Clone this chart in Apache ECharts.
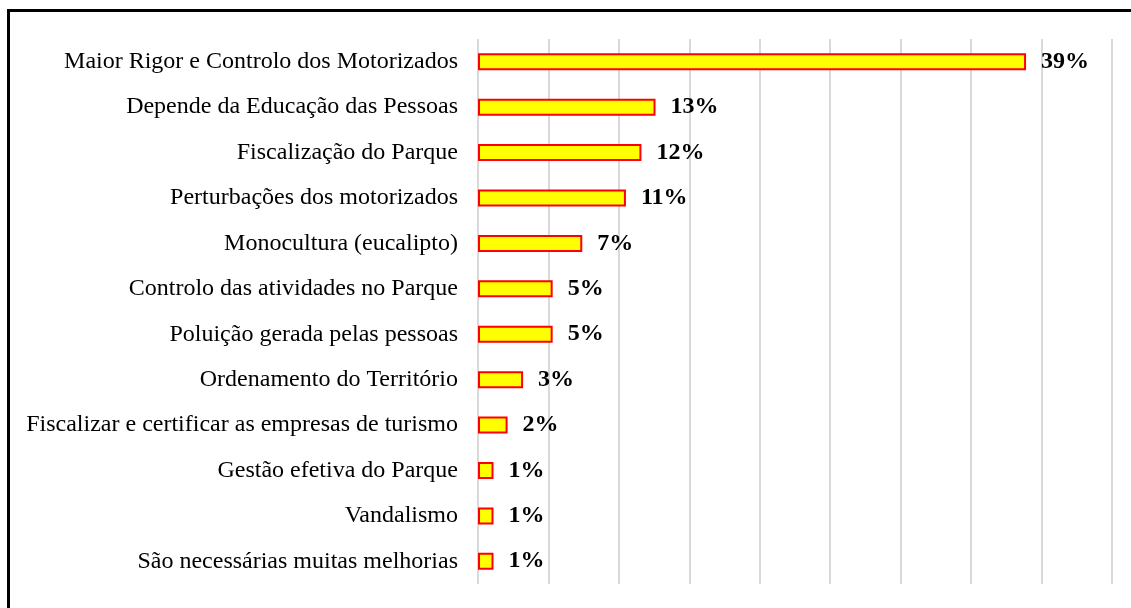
<!DOCTYPE html>
<html>
<head>
<meta charset="utf-8">
<title>Bar chart</title>
<script src="https://cdn.jsdelivr.net/npm/echarts@6/dist/echarts.min.js"></script>
<style>
  html, body { margin: 0; padding: 0; background: #fff; }
  #main { width: 1131px; height: 608px; }
</style>
</head>
<body>
<div id="main"></div>
<script>
// categorias, de cima para baixo
const categories = [
  'Maior Rigor e Controlo dos Motorizados',
  'Depende da Educação das Pessoas',
  'Fiscalização do Parque',
  'Perturbações dos motorizados',
  'Monocultura (eucalipto)',
  'Controlo das atividades no Parque',
  'Poluição gerada pelas pessoas',
  'Ordenamento do Território',
  'Fiscalizar e certificar as empresas de turismo',
  'Gestão efetiva do Parque',
  'Vandalismo',
  'São necessárias muitas melhorias'
];
const values = [38.9, 12.6, 11.6, 10.5, 7.4, 5.3, 5.3, 3.2, 2.1, 1.1, 1.1, 1.1];

let chart = echarts.init(document.getElementById('main'));

let option = {
  animation: false,
  backgroundColor: '#fff',
  graphic: [
    {
      type: 'rect',
      shape: { x: 8.5, y: 10.5, width: 1200, height: 700 },
      style: { fill: 'none', stroke: '#000', lineWidth: 3 },
      silent: true
    }
  ],
  grid: {
    left: 478,
    right: 19,
    top: 39,
    bottom: 24,
    containLabel: false
  },
  xAxis: {
    type: 'value',
    min: 0,
    max: 45,
    interval: 5,
    axisLabel: { show: false },
    axisLine: { show: false },
    axisTick: { show: false },
    splitLine: { lineStyle: { color: '#d9d9d9', width: 2 } }
  },
  yAxis: {
    type: 'category',
    inverse: true,
    data: categories,
    axisLine: { show: false },
    axisTick: { show: false },
    axisLabel: {
      margin: 20,
      color: '#000',
      fontFamily: 'Liberation Serif',
      fontSize: 24
    }
  },
  series: [
    {
      type: 'bar',
      data: values,
      barWidth: 17,
      itemStyle: {
        color: '#ffff00',
        borderColor: '#ff0000',
        borderWidth: 2
      },
      label: {
        show: true,
        position: 'right',
        distance: 15,
        color: '#000',
        fontFamily: 'Liberation Serif',
        fontWeight: 'bold',
        fontSize: 24,
        formatter: p => Math.round(p.value) + '%'
      }
    }
  ]
};

chart.setOption(option);
</script>
</body>
</html>
